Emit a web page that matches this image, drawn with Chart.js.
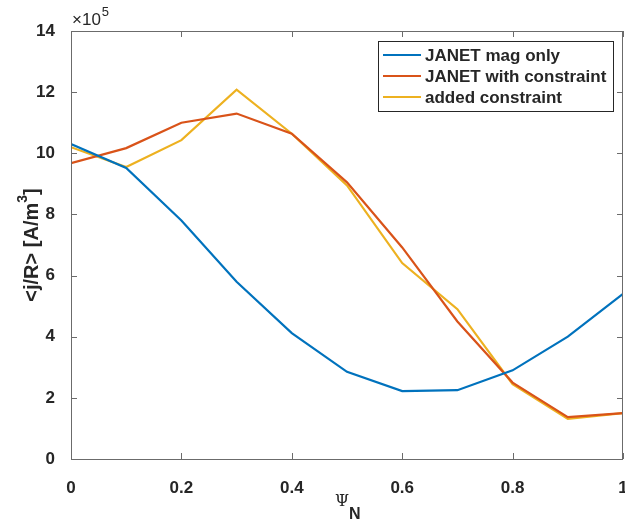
<!DOCTYPE html>
<html>
<head>
<meta charset="utf-8">
<script src="https://cdn.jsdelivr.net/npm/chart.js@4"></script>
<style>
  html, body { margin: 0; padding: 0; background: #fff; }
  #wrap { width: 625px; height: 523px; }
</style>
</head>
<body>
<div id="wrap"><canvas id="myChart" width="625" height="523"></canvas></div>
<script>
// values in units of 1e5 A/m^3
const psiN = [0, 0.1, 0.2, 0.3, 0.4, 0.5, 0.6, 0.7, 0.8, 0.9, 1.0];
const magOnly = [10.3, 9.52, 7.8, 5.8, 4.12, 2.85, 2.22, 2.25, 2.9, 4.0, 5.4];
const withConstraint = [9.68, 10.17, 11.0, 11.3, 10.64, 9.05, 6.92, 4.5, 2.5, 1.37, 1.5];
const addedConstraint = [10.2, 9.55, 10.43, 12.08, 10.64, 8.95, 6.41, 4.9, 2.45, 1.31, 1.5];
const xTicks = [0, 0.2, 0.4, 0.6, 0.8, 1];
const yTicks = [0, 2, 4, 6, 8, 10, 12, 14];

const labels = ['JANET mag only', 'JANET with constraint', 'added constraint'];
const colors = ['#0072BD', '#D95319', '#EDB120'];
const font = '"Liberation Sans", Arial, Helvetica, sans-serif';
const axisColor = '#6b6b6b';
const textColor = '#262626';

function pts(ys) {
  return psiN.map((x, i) => ({ x: x, y: ys[i] }));
}

var chartData = {
  datasets: [magOnly, withConstraint, addedConstraint].map((ys, i) => ({
    label: labels[i],
    data: pts(ys),
    borderColor: colors[i],
    backgroundColor: colors[i],
    borderWidth: 2.2,
    pointRadius: 0,
    tension: 0,
    fill: false
  }))
};

// frame, inward ticks, legend and the axis texts, drawn MATLAB style
const matlabLook = {
  id: 'matlabLook',
  afterDraw(chart) {
    const c = chart.ctx;
    const a = chart.chartArea;
    const sx = chart.scales.x, sy = chart.scales.y;
    c.save();
    c.strokeStyle = axisColor;
    c.lineWidth = 1;
    c.strokeRect(a.left + 0.5, a.top + 0.5, a.right - a.left - 1, a.bottom - a.top);
    c.beginPath();
    const tl = 6;
    xTicks.forEach(v => {
      const px = Math.round(sx.getPixelForValue(v)) + 0.5;
      c.moveTo(px, a.bottom); c.lineTo(px, a.bottom - tl);
      c.moveTo(px, a.top); c.lineTo(px, a.top + tl);
    });
    yTicks.forEach(v => {
      const py = Math.round(sy.getPixelForValue(v)) + 0.5;
      c.moveTo(a.left, py); c.lineTo(a.left + tl, py);
      c.moveTo(a.right, py); c.lineTo(a.right - tl, py);
    });
    c.stroke();

    // x10^5 exponent label
    c.fillStyle = textColor;
    c.textBaseline = 'alphabetic';
    c.textAlign = 'left';
    c.font = '17px ' + font;
    c.fillText('\u00d710', a.left + 1, 25);
    const w = c.measureText('\u00d710').width;
    c.font = '13px ' + font;
    c.fillText('5', a.left + 2 + w, 16);

    // y title with superscript 3
    c.save();
    c.translate(32, 0);
    c.rotate(-Math.PI / 2);
    c.textBaseline = 'middle';
    c.textAlign = 'left';
    const t1 = '<j/R> [A/m', t2 = '3', t3 = ']';
    c.font = 'bold 20px ' + font;
    const w1 = c.measureText(t1).width, w3 = c.measureText(t3).width;
    c.font = 'bold 14px ' + font;
    const w2 = c.measureText(t2).width;
    let s = -((a.top + a.bottom) / 2) - (w1 + w2 + w3) / 2;
    c.font = 'bold 20px ' + font;
    c.fillText(t1, s, 0);
    c.font = 'bold 14px ' + font;
    c.fillText(t2, s + w1, -9);
    c.font = 'bold 20px ' + font;
    c.fillText(t3, s + w1 + w2, 0);
    c.restore();

    // x title  Psi_N
    c.textAlign = 'left';
    c.textBaseline = 'middle';
    c.font = '16px "DejaVu Serif", serif';
    c.fillText('\u03a8', 335, 502);
    c.font = 'bold 16px ' + font;
    c.fillText('N', 349, 515);

    // legend
    const lx = 378, ly = 41, lw = 235, lh = 70;
    c.fillStyle = '#fff';
    c.fillRect(lx, ly, lw, lh);
    c.strokeStyle = '#262626';
    c.strokeRect(lx + 0.5, ly + 0.5, lw, lh);
    c.font = 'bold 17px ' + font;
    chart.data.datasets.forEach((ds, i) => {
      const y = 55 + i * 21;
      c.strokeStyle = ds.borderColor;
      c.lineWidth = 2.2;
      c.beginPath();
      c.moveTo(383, y); c.lineTo(421, y);
      c.stroke();
      c.fillStyle = textColor;
      c.fillText(ds.label, 425, y + 1);
    });
    c.restore();
  }
};

var ctx = document.getElementById('myChart');
var myChart = new Chart(ctx, {
  type: 'line',
  data: chartData,
  plugins: [matlabLook],
  options: {
    responsive: false,
    animation: false,
    devicePixelRatio: 1,
    layout: { padding: { left: 0, right: 2, top: 31, bottom: 0 } },
    plugins: {
      legend: { display: false },
      tooltip: { enabled: false }
    },
    scales: {
      x: {
        type: 'linear',
        min: 0,
        max: 1,
        afterBuildTicks: s => { s.ticks = xTicks.map(v => ({ value: v })); },
        afterFit: s => { s.height = 64; s.paddingLeft = 0; s.paddingRight = 0; },
        grid: { display: false },
        border: { display: false },
        ticks: {
          padding: 11,
          color: textColor,
          maxRotation: 0,
          autoSkip: false,
          font: { family: font, size: 17, weight: 'bold' },
          callback: v => String(v)
        }
      },
      y: {
        min: 0,
        max: 14,
        afterBuildTicks: s => { s.ticks = yTicks.map(v => ({ value: v })); },
        afterFit: s => { s.width = 71; s.paddingTop = 0; s.paddingBottom = 0; },
        grid: { display: false },
        border: { display: false },
        ticks: {
          padding: 8,
          color: textColor,
          font: { family: font, size: 17, weight: 'bold' }
        }
      }
    }
  }
});
</script>
</body>
</html>
